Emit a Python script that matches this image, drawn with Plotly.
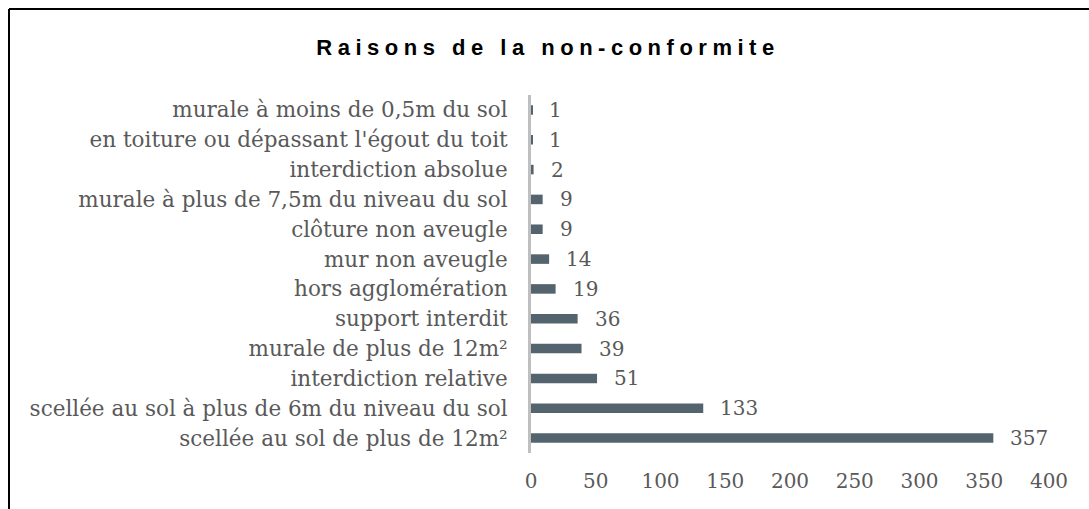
import plotly.graph_objects as go

# Données : motifs de non-conformité et nombre de dispositifs concernés
categories = [
    "scellée au sol de plus de 12m²",
    "scellée au sol à plus de 6m du niveau du sol",
    "interdiction relative",
    "murale de plus de 12m²",
    "support interdit",
    "hors agglomération",
    "mur non aveugle",
    "clôture non aveugle",
    "murale à plus de 7,5m du niveau du sol",
    "interdiction absolue",
    "en toiture ou dépassant l'égout du toit",
    "murale à moins de 0,5m du sol",
]
valeurs = [357, 133, 51, 39, 36, 19, 14, 9, 9, 2, 1, 1]
graduations = [0, 50, 100, 150, 200, 250, 300, 350, 400]
titre = "Raisons de la non-conformite"

W, H = 1089, 509
M_L, M_R, M_T, M_B = 531, 40, 95, 56
plot_w = W - M_L - M_R
plot_h = H - M_T - M_B

serif = "DejaVu Serif"
gris = "#595959"
barre = "#54646e"

fig = go.Figure(
    go.Bar(
        x=valeurs,
        y=categories,
        orientation="h",
        marker=dict(color=barre, line=dict(width=0)),
        width=0.32,
        hoverinfo="x+y",
    )
)

# Étiquettes de valeur à droite des barres
for cat, v in zip(categories, valeurs):
    fig.add_annotation(
        x=v, y=cat, xref="x", yref="y",
        text=str(v), showarrow=False,
        xanchor="left", yanchor="middle", xshift=15,
        font=dict(family=serif, size=20, color=gris),
    )

# Cadre du graphique (bords haut et gauche)
px2x = lambda px: (px - M_L) / plot_w
py2y = lambda py: (H - M_B - py) / plot_h
cadre = dict(color="#000000", width=2)
fig.add_shape(type="line", xref="paper", yref="paper",
              x0=px2x(9), x1=px2x(W + 5), y0=py2y(9), y1=py2y(9), line=cadre)
fig.add_shape(type="line", xref="paper", yref="paper",
              x0=px2x(9), x1=px2x(9), y0=py2y(9), y1=py2y(H + 5), line=cadre)

fig.update_layout(
    width=W, height=H,
    margin=dict(l=M_L, r=M_R, t=M_T, b=M_B, autoexpand=False),
    paper_bgcolor="white", plot_bgcolor="white",
    showlegend=False,
    title=dict(
        text=titre, x=548 / W, xanchor="center",
        y=1 - 47 / H, yanchor="middle", xref="container", yref="container",
        font=dict(family="Liberation Sans", size=22, color="#000000", weight="bold"),
    ),
    xaxis=dict(
        range=[0, 400], tickvals=graduations, ticktext=[str(g) for g in graduations],
        showgrid=False, zeroline=False, showline=False, ticks="",
        tickfont=dict(family=serif, size=20, color=gris),
        ticklabelstandoff=14, fixedrange=True,
    ),
    yaxis=dict(
        categoryorder="array", categoryarray=categories,
        range=[-0.5, len(categories) - 0.5],
        showgrid=False, zeroline=False, ticks="",
        showline=True, linecolor="#bfbfbf", linewidth=3,
        tickfont=dict(family=serif, size=21.5, color=gris),
        ticklabelstandoff=16, fixedrange=True,
    ),
)

# Espacement des lettres du titre
post = """
document.querySelectorAll('.gtitle').forEach(function(t){
  t.style.letterSpacing = '5.5px';
});
"""

fig.write_html("out.html", post_script=post, config={"displayModeBar": False})
